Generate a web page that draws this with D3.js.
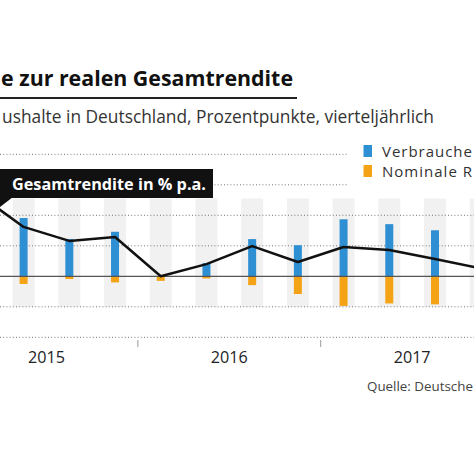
<!DOCTYPE html>
<html><head><meta charset="utf-8">
<script src="https://cdn.jsdelivr.net/npm/d3@7"></script>
<style>
html,body{margin:0;padding:0;background:#fff;}
svg{display:block;}
text{font-family:"Open Sans", Lato, sans-serif;}
</style></head>
<body>
<script>
// ---- data ----
const quarters = ["2015 Q1","2015 Q2","2015 Q3","2015 Q4","2016 Q1","2016 Q2","2016 Q3","2016 Q4","2017 Q1","2017 Q2","2017 Q3","2017 Q4"];
const years = ["2015","2016","2017"];
const gesamtrendite = [2.7, 1.62, 1.16, 1.29, 0.0, 0.40, 0.99, 0.47, 0.96, 0.86, 0.57, 0.26];
const verbraucherpreise = [1.8, 1.91, 1.22, 1.46, 0.0, 0.43, 1.22, 1.02, 1.87, 1.71, 1.51, 1.4];
const nominaleRendite = [-0.2, -0.25, -0.09, -0.2, -0.15, -0.07, -0.29, -0.58, -0.97, -0.89, -0.92, -0.9];
const yTicks = [-2, -1, 1, 2, 3, 4];
const titleText = "e zur realen Gesamtrendite";
const subtitleText = "ushalte in Deutschland, Prozentpunkte, vierteljährlich";
const legendLabels = ["Verbrauche", "Nominale R"];
const lineLabel = "Gesamtrendite in % p.a.";
const sourceText = "Quelle: Deutsche";

const W = 474, H = 463;
const BLUE = "#2f8fd3", ORANGE = "#f5a316";

const svg = d3.select("body").append("svg").attr("width", W).attr("height", H);
svg.append("rect").attr("width", W).attr("height", H).attr("fill", "#fff");

const x = d3.scaleLinear().domain([0, 10]).range([-22.1, 435]);
const y = d3.scaleLinear().domain([-2, 4]).range([337.3, 154.3]);

// fit a text element's font size so that it spans a target width
function fit(sel, target) {
  const node = sel.node();
  const fs = parseFloat(sel.attr("font-size"));
  const w = node.getComputedTextLength();
  if (w > 0) sel.attr("font-size", (fs * target / w).toFixed(2));
  return sel;
}
// widen a text with letter spacing so that it spans a target width
function spread(sel, target) {
  const w = sel.node().getComputedTextLength();
  const n = sel.text().length;
  if (w > 0 && n > 1) sel.attr("letter-spacing", ((target - w) / (n - 1)).toFixed(2));
  return sel;
}

// title
fit(svg.append("text").attr("x", 293).attr("y", 86).attr("text-anchor", "end")
  .attr("font-size", 19).attr("font-weight", 700).attr("fill", "#111").text(titleText), 292);
svg.append("line").attr("x1", 0).attr("x2", 297).attr("y1", 98).attr("y2", 98)
  .attr("stroke", "#222").attr("stroke-width", 2);
fit(svg.append("text").attr("x", 434).attr("y", 123).attr("text-anchor", "end")
  .attr("font-size", 16).attr("fill", "#333").text(subtitleText), 432);

// stripes
svg.append("g").selectAll("rect").data(quarters).join("rect")
  .attr("x", (d, i) => x(i) - 11).attr("width", 22)
  .attr("y", y(2.55)).attr("height", y(-1) - y(2.55))
  .attr("fill", "#f1f1f1");

// gridlines
svg.append("g").selectAll("line").data(yTicks).join("line")
  .attr("x1", 0).attr("x2", d => d >= 3 ? 348 : W)
  .attr("y1", d => y(d)).attr("y2", d => y(d))
  .attr("stroke", "#777").attr("stroke-width", 1).attr("stroke-dasharray", "1,2.2");

// bars
svg.append("g").selectAll("rect").data(verbraucherpreise).join("rect")
  .attr("x", (d, i) => x(i) - 4).attr("width", 8)
  .attr("y", d => y(Math.max(0, d))).attr("height", d => Math.abs(y(d) - y(0)))
  .attr("fill", BLUE);
svg.append("g").selectAll("rect").data(nominaleRendite).join("rect")
  .attr("x", (d, i) => x(i) - 4).attr("width", 8)
  .attr("y", d => y(Math.max(0, d))).attr("height", d => Math.abs(y(d) - y(0)))
  .attr("fill", ORANGE);

// zero line
svg.append("line").attr("x1", 0).attr("x2", W).attr("y1", y(0)).attr("y2", y(0))
  .attr("stroke", "#555").attr("stroke-width", 1.3);

// line
svg.append("path").datum(gesamtrendite)
  .attr("d", d3.line().x((d, i) => x(i)).y(d => y(d)))
  .attr("fill", "none").attr("stroke", "#111").attr("stroke-width", 2.5).attr("stroke-linejoin", "round");

// label box
const lb = svg.append("g");
lb.append("rect").attr("x", -2).attr("y", 169).attr("width", 215).attr("height", 29).attr("fill", "#111");
lb.append("path").attr("d", "M0,197 L13,197 L0,207 Z").attr("fill", "#111");
fit(lb.append("text").attr("x", 12).attr("y", 189.5).attr("font-size", 16).attr("font-weight", 700)
  .attr("fill", "#fff").text(lineLabel), 194);

// legend
const lg = svg.append("g");
[BLUE, ORANGE].forEach((c, i) => {
  lg.append("rect").attr("x", 363.5).attr("y", 145 + i * 20).attr("width", 8.5).attr("height", 12).attr("fill", c);
  spread(lg.append("text").attr("x", 382).attr("y", 157 + i * 20).attr("font-size", 15).attr("fill", "#333").text(legendLabels[i]), 90);
});

// x axis: year boundaries and labels
svg.append("g").selectAll("line").data([3.5, 7.5]).join("line")
  .attr("x1", d => x(d)).attr("x2", d => x(d)).attr("y1", 340).attr("y2", 347)
  .attr("stroke", "#999").attr("stroke-width", 1);
svg.append("g").selectAll("text").data(years).join("text")
  .attr("x", (d, i) => x(i * 4 + 1.5)).attr("y", 363).attr("text-anchor", "middle")
  .attr("font-size", 17).attr("fill", "#222").text(d => d)
  .each(function () { fit(d3.select(this), 37); });

// source
fit(svg.append("text").attr("x", 367).attr("y", 391).attr("font-size", 14).attr("fill", "#444").text(sourceText), 106);
</script>
</body></html>
